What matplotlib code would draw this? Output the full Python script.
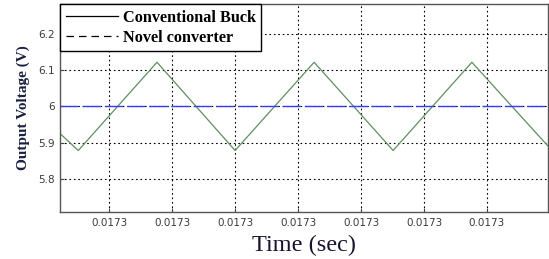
import matplotlib
matplotlib.use('Agg')
import matplotlib.pyplot as plt
from matplotlib.lines import Line2D
from matplotlib.ticker import FormatStrFormatter
import numpy as np

# Vertices of the buck output ripple, time in microseconds after 0.0173 s
buck_time_us = [0.44, 1.02, 3.52, 6.00, 8.51, 11.02, 13.52, 15.94]
buck_voltage = [5.925, 5.878, 6.122, 5.878, 6.122, 5.878, 6.122, 5.89]
novel_voltage = 6.0

t0 = 0.0173
tick_us = [2, 4, 6, 8, 10, 12, 14]
y_ticks = [5.8, 5.9, 6.0, 6.1, 6.2]
y_tick_labels = ['5.8', '5.9', '6', '6.1', '6.2']

buck_time = t0 + np.array(buck_time_us) * 1e-6
x_ticks = t0 + np.array(tick_us) * 1e-6

fig = plt.figure(figsize=(5.49, 2.59), dpi=100)
ax = fig.add_axes([0.1093, 0.1815, 0.889, 0.803])

ax.plot(buck_time, buck_voltage, color='#5f8f5f', lw=0.9)
ax.plot([buck_time[0], buck_time[-1]], [novel_voltage, novel_voltage],
        color='#3a3aff', lw=1.0, dashes=(13, 3))

ax.set_xlim(buck_time[0], buck_time[-1])
ax.set_ylim(5.708, 6.283)
ax.set_xticks(x_ticks)
ax.xaxis.set_major_formatter(FormatStrFormatter('%.4f'))
ax.set_yticks(y_ticks)
ax.set_yticklabels(y_tick_labels)
ax.grid(True, color='black', linestyle=(0, (1.5, 2.5)), lw=0.8)
ax.tick_params(direction='in', labelsize=7.5, labelcolor='#3a3a3a',
               color='#444444', length=3)
ax.tick_params(axis='x', pad=4.5)
for sp in ax.spines.values():
    sp.set_color('#555555')
    sp.set_linewidth(1.0)

ax.set_xlabel('Time (sec)', family='Liberation Serif', fontsize=17.5,
              color='#1a1030', labelpad=4.5)
ax.set_ylabel('Output Voltage (V)', family='Liberation Serif', fontsize=11,
              fontweight='bold', color='#1a2040', labelpad=6)

handles = [Line2D([], [], color='black', lw=0.9),
           Line2D([], [], color='black', lw=0.9, dashes=(6, 4))]
leg = ax.legend(handles, ['Conventional Buck', 'Novel converter'],
                loc='upper left', bbox_to_anchor=(0, 1), borderaxespad=0,
                fancybox=False, framealpha=1, edgecolor='black',
                handlelength=3.2, handletextpad=0.3, borderpad=0.35,
                labelspacing=0.25,
                prop={'family': 'Liberation Serif', 'weight': 'bold', 'size': 11.7})
leg.get_frame().set_linewidth(1.0)

fig.savefig('out.png', dpi=100)
